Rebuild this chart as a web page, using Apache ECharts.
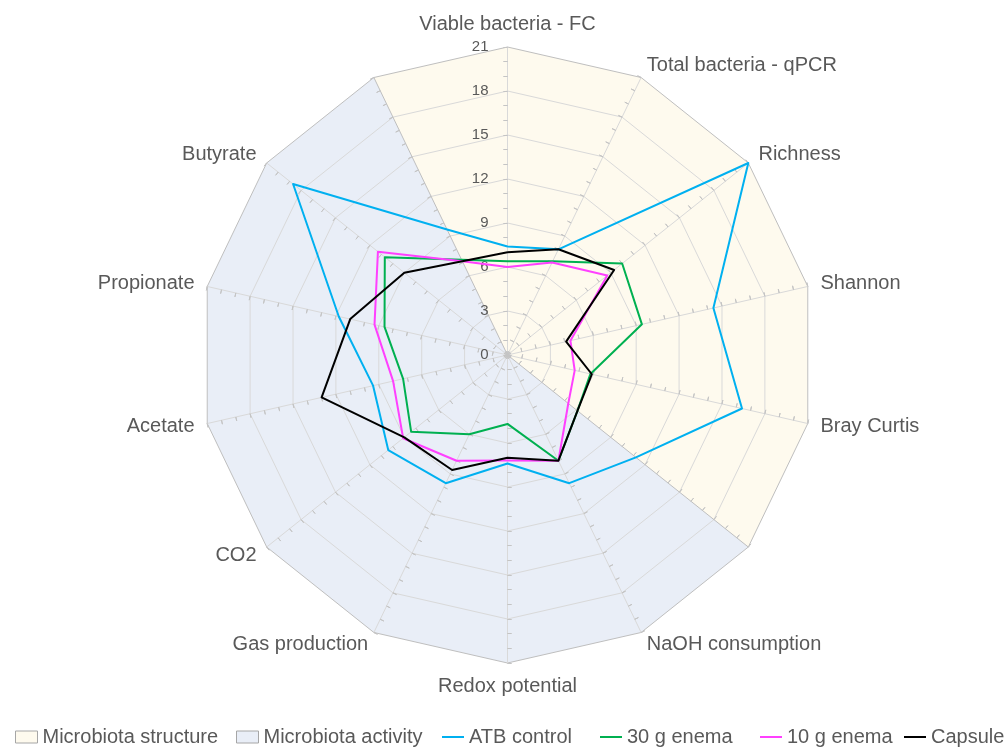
<!DOCTYPE html>
<html><head><meta charset="utf-8">
<script src="https://cdn.jsdelivr.net/npm/echarts@6.0.0/dist/echarts.min.js"></script>
<style>html,body{margin:0;padding:0;background:#fff}#c{width:1005px;height:749px}</style>
</head><body><div id="c"></div>
<script>
// Indicators, clockwise from the top (two unlabeled spokes)
const categories = ['Viable bacteria - FC','Total bacteria - qPCR','Richness','Shannon','Bray Curtis','','NaOH consumption','Redox potential','Gas production','CO2','Acetate','Propionate','Butyrate',''];
const tickLabels = [0,3,6,9,12,15,18,21];
const axisMax = 21;
// Background sectors
const structureArea = [21,21,21,21,21,21,0,0,0,0,0,0,0,21];
const activityArea  = [0,0,0,0,0,21,21,21,21,21,21,21,21,21];
// Series
const atbControl = [7.4,8.0,21,14.4,16.4,11.2,9.7,7.4,9.7,10.4,9.4,11.8,18.7,9.5];
const enema30    = [6.4,7.1,10.0,9.4,5.8,6.1,8.0,4.7,6.0,8.4,7.3,8.6,10.7,7.2];
const enema10    = [6.0,7.0,8.7,4.4,4.7,5.3,8.0,7.2,8.0,9.1,8.0,9.3,11.3,7.1];
const capsule    = [7.0,8.0,9.3,4.1,5.9,6.1,8.0,7.0,8.7,9.0,13.0,11.0,9.0,7.1];

const legendNames = ['Microbiota structure','Microbiota activity','ATB control','30 g enema','10 g enema','Capsule'];

const N = categories.length;
// ECharts lays indicators out counter-clockwise; reorder to draw clockwise
const order = categories.map((_, i) => (N - i) % N);
const rev = arr => order.map(i => arr[i]);

const FONT = "'Liberation Sans', Arial, sans-serif";
const TXT = '#595959';
const CENTER = [507.5, 355];
const RADIUS = 308;
const splitNumber = tickLabels.length - 1;

const mainIndicators = order.map(i => {
  const ind = { name: categories[i], min: 0, max: axisMax };
  if (i === 0) ind.axisLabel = { show: true };
  if (categories[i] === '') ind.axisLine = { lineStyle: { color: '#bfbfbf' } };
  return ind;
});
const blankIndicators = order.map(() => ({ name: '', min: 0, max: axisMax }));

function tickRadar(inside) {
  return {
    center: CENTER, radius: RADIUS, startAngle: 90, shape: 'polygon',
    splitNumber: axisMax, indicator: blankIndicators, z: 2,
    axisName: { show: false }, axisLine: { show: false },
    splitLine: { show: false }, splitArea: { show: false },
    axisLabel: { show: false },
    axisTick: { show: true, inside: inside, length: 4, lineStyle: { color: '#c4c4c4', width: 1 } }
  };
}

const ringColors = [];
for (let i = 0; i < splitNumber; i++) ringColors.push('#d9d9d9');
ringColors.push('#bfbfbf');

const lineColors = ['#00B0F0', '#00B050', '#FF40FF', '#000000'];
const lineData = [atbControl, enema30, enema10, capsule];
const areaColors = ['#FEFAEE', '#E9EEF7'];

const legendLefts = [15, 236, 442, 600, 760, 904];
const legends = legendNames.map((n, k) => {
  const isArea = k < 2;
  return {
    left: legendLefts[k], top: 727, padding: 0, selectedMode: false,
    itemWidth: 22, itemHeight: isArea ? 12 : 2, itemGap: 0,
    textStyle: { color: TXT, fontSize: 20, fontFamily: FONT },
    data: [{
      name: n, icon: 'rect',
      itemStyle: isArea ? { color: areaColors[k], borderColor: '#a6a6a6', borderWidth: 1 }
                        : { color: lineColors[k - 2], borderWidth: 0 }
    }]
  };
});

const chart = echarts.init(document.getElementById('c'), null, { renderer: 'canvas' });
chart.setOption({
  animation: false,
  backgroundColor: '#ffffff',
  legend: legends,
  radar: [
    {
      center: CENTER, radius: RADIUS, startAngle: 90, shape: 'polygon',
      splitNumber: splitNumber, indicator: mainIndicators, z: 2,
      axisName: { color: TXT, fontSize: 20, fontFamily: FONT },
      nameGap: 13,
      axisLine: { show: true, lineStyle: { color: '#d9d9d9', width: 1 } },
      splitLine: { show: true, lineStyle: { color: ringColors, width: 1 } },
      splitArea: { show: false },
      axisTick: { show: false },
      axisLabel: { show: false, color: TXT, fontSize: 15, fontFamily: FONT, margin: 19,
        formatter: v => String(v) }
    },
    tickRadar(false),
    tickRadar(true)
  ],
  series: [
    {
      type: 'radar', radarIndex: 0, z: 1, silent: true, symbol: 'none',
      data: [
        { name: legendNames[0], value: rev(structureArea),
          lineStyle: { width: 0, color: '#bfbfbf' },
          itemStyle: { color: areaColors[0] },
          areaStyle: { color: areaColors[0], opacity: 1 } },
        { name: legendNames[1], value: rev(activityArea),
          lineStyle: { width: 0, color: '#bfbfbf' },
          itemStyle: { color: areaColors[1] },
          areaStyle: { color: areaColors[1], opacity: 1 } }
      ]
    },
    {
      type: 'radar', radarIndex: 0, z: 3, silent: true, symbol: 'none',
      data: lineData.map((d, k) => ({
        name: legendNames[k + 2], value: rev(d),
        lineStyle: { color: lineColors[k], width: 2 },
        itemStyle: { color: lineColors[k] }
      }))
    }
  ]
});
</script>
</body></html>
